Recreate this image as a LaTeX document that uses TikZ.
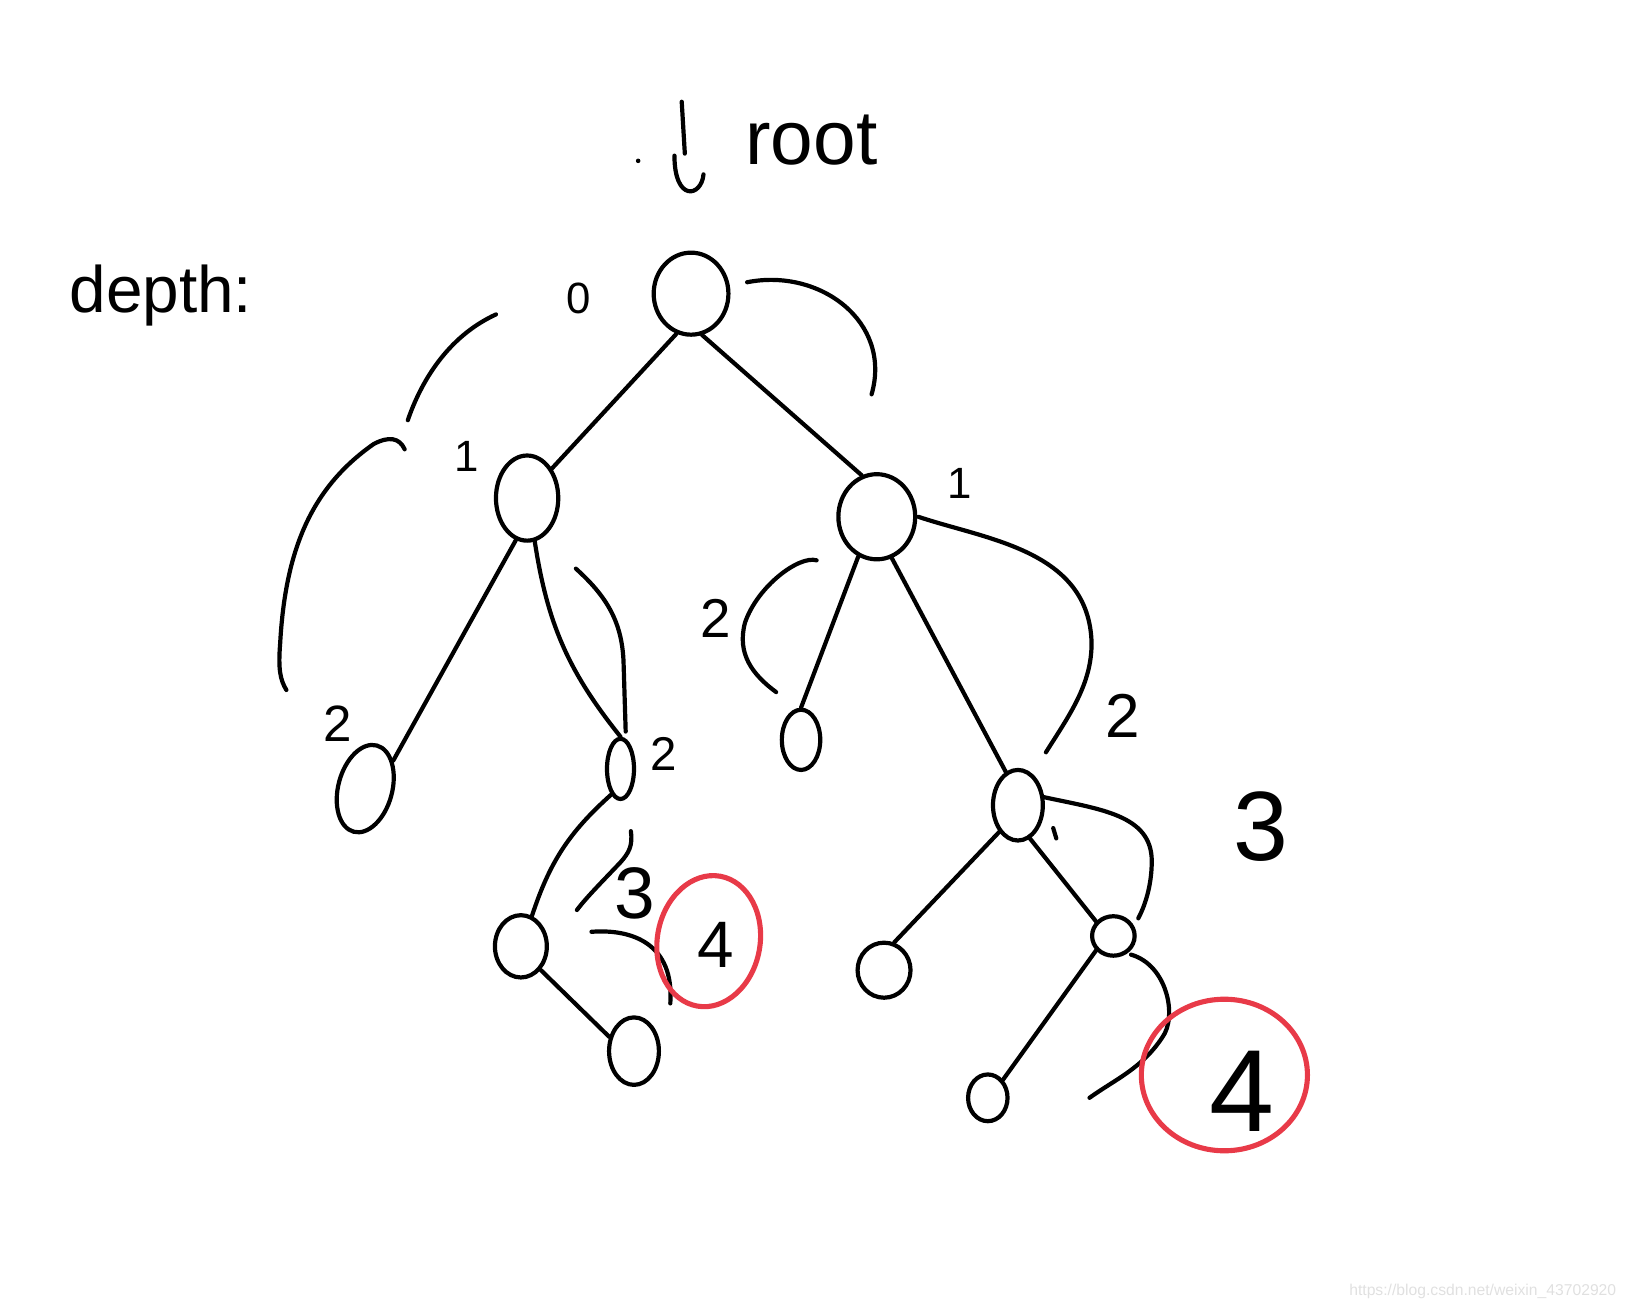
\documentclass[tikz,border=0pt]{standalone}
\usepackage{fontspec}
\setmainfont{Liberation Sans}
\usepackage{tikz}
\usetikzlibrary{shapes.geometric}
\definecolor{penred}{RGB}{232,58,72}
\tikzset{
  font={\fontsize{14pt}{16}\selectfont},
  treenode/.style={draw=black, ellipse, inner sep=0pt, line width=1.15pt},
  depthlabel/.style={inner sep=0pt},
  redring/.style={draw=penred, ellipse, inner sep=0pt, line width=1.4pt},
  pen/.style={line width=1.15pt, line cap=round}}

\begin{document}
\begin{tikzpicture}[x=0.01cm, y=-0.01cm]
%% frame with the proportions of the sketch
\useasboundingbox (0,0) rectangle (1568,1262);

%% titles
\node[depthlabel, font={\fontsize{21pt}{22}\selectfont}] (roottext) at (782,135) {root};
\node[depthlabel, font={\fontsize{18pt}{20}\selectfont}] (depthtext) at (155,285) {depth:};
\draw[pen] (657,98) -- (660,148);
\draw[pen] (650,150) .. controls (650,195) and (676,190) .. (678,168);
\fill (615,155) circle (2.2);

%% the tree
\node[treenode, minimum width=0.72cm, minimum height=0.79cm] (root) at (666,283) {};
\node[treenode, minimum width=0.60cm, minimum height=0.82cm] (l) at (508,480) {};
\node[treenode, minimum width=0.74cm, minimum height=0.82cm] (r) at (845,498) {};
\node[treenode, minimum width=0.52cm, minimum height=0.86cm, rotate=-15] (ll) at (352,760) {};
\node[treenode, minimum width=0.26cm, minimum height=0.58cm] (lr) at (598,741) {};
\node[treenode, minimum width=0.37cm, minimum height=0.58cm] (rl) at (772,713) {};
\node[treenode, minimum width=0.48cm, minimum height=0.68cm] (rr) at (981,776) {};
\node[treenode, minimum width=0.50cm, minimum height=0.60cm] (lrl) at (502,912) {};
\node[treenode, minimum width=0.48cm, minimum height=0.65cm] (lrlr) at (611,1013) {};
\node[treenode, minimum width=0.51cm, minimum height=0.53cm] (rrl) at (852,935) {};
\node[treenode, minimum width=0.41cm, minimum height=0.38cm] (rrr) at (1073,902) {};
\node[treenode, minimum width=0.38cm, minimum height=0.45cm] (rrrl) at (952,1058) {};

\draw[pen] (root.250) -- (l.50);
\draw[pen] (root.285) -- (r.110);
\draw[pen] (l.255) -- (ll.60);
\draw[pen] (l.280) to[bend right=15] (lr.north);
\draw[pen] (r.245) -- (rl.north);
\draw[pen] (r.290) -- (rr.110);
\draw[pen] (lr.250) to[bend right=15] (lrl.70);
\draw[pen] (lrl.310) -- (lrlr.150);
\draw[pen] (rr.235) -- (rrl.70);
\draw[pen] (rr.290) -- (rrr.140);
\draw[pen] (rrr.220) -- (rrrl.50);

%% depth marks
\draw[pen] (478,303) .. controls (430,325) and (405,370) .. (393,405);
\draw[pen] (390,433) .. controls (385,422) and (375,420) .. (360,428)
  .. controls (300,470) and (275,530) .. (270,620)
  .. controls (268,645) and (270,655) .. (276,665);
\draw[pen] (720,272) .. controls (790,258) and (860,310) .. (840,380);
\draw[pen] (555,548) .. controls (585,575) and (600,600) .. (601,640) -- (603,705);
\draw[pen] (787,540) .. controls (770,535) and (730,565) .. (718,600)
  .. controls (710,630) and (725,650) .. (748,667);
\draw[pen] (885,498) .. controls (950,520) and (1050,530) .. (1052,620)
  .. controls (1052,660) and (1030,690) .. (1008,725);
\draw[pen] (608,801) .. controls (610,815) and (606,822) .. (598,831)
  .. controls (580,850) and (565,865) .. (556,877);
\draw[pen] (570,898) .. controls (610,895) and (650,910) .. (646,967);
\draw[pen] (1005,768) .. controls (1060,780) and (1110,785) .. (1110,830)
  .. controls (1110,850) and (1105,870) .. (1097,885);
\draw[pen] (1090,920) .. controls (1125,930) and (1135,980) .. (1120,1000)
  .. controls (1100,1030) and (1075,1040) .. (1050,1058);
\draw[pen] (1015,798) -- (1018,808);

%% depth numbers
\node[depthlabel, font={\fontsize{12pt}{12}\selectfont}] (d0) at (558,288) {0};
\node[depthlabel, font={\fontsize{12pt}{12}\selectfont}] (d1l) at (450,440) {1};
\node[depthlabel, font={\fontsize{12pt}{12}\selectfont}] (d1r) at (925,466) {1};
\node[depthlabel, font={\fontsize{14pt}{14}\selectfont}] (d2ll) at (325,697) {2};
\node[depthlabel, font={\fontsize{13pt}{14}\selectfont}] (d2lr) at (640,727) {2};
\node[depthlabel, font={\fontsize{15pt}{16}\selectfont}] (d2rl) at (690,596) {2};
\node[depthlabel, font={\fontsize{17pt}{18}\selectfont}] (d2rr) at (1082,690) {2};
\node[depthlabel, font={\fontsize{20pt}{20}\selectfont}] (d3l) at (612,861) {3};
\node[depthlabel, font={\fontsize{27pt}{27}\selectfont}] (d3r) at (1215,797) {3};

%% the two depth 4 marks
\node[redring, minimum width=0.99cm, minimum height=1.27cm, rotate=-10] (ringl) at (683,907) {};
\node[depthlabel, font={\fontsize{18pt}{18}\selectfont}] (d4l) at (690,911) {4};
\node[redring, minimum width=1.60cm, minimum height=1.46cm] (ringr) at (1180,1036) {};
\node[depthlabel, font={\fontsize{32pt}{32}\selectfont}] (d4r) at (1197,1052) {4};

\node[depthlabel, text=black!12, font={\fontsize{4.3pt}{5}\selectfont}] (mark) at (1429,1245) {https://blog.csdn.net/weixin\_43702920};
\end{tikzpicture}
\end{document}
